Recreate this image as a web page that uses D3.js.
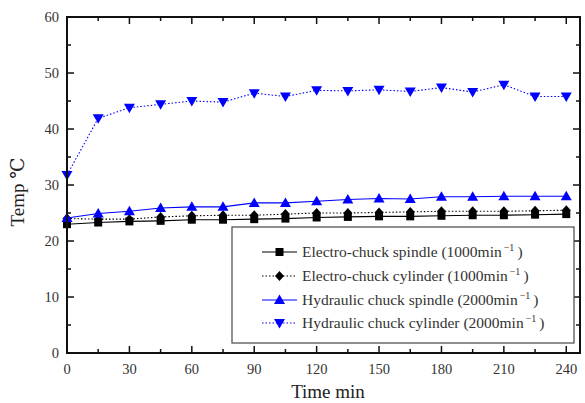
<!DOCTYPE html>
<html>
<head>
<meta charset="utf-8">
<script src="https://cdn.jsdelivr.net/npm/d3@7/dist/d3.min.js"></script>
<style>
  html, body { margin: 0; padding: 0; background: #fff; }
  svg { display: block; }
  text { font-family: "Liberation Serif", "DejaVu Serif", serif; }
</style>
</head>
<body>
<svg id="chart" width="585" height="403"></svg>
<script>
// Sampling times (min)
const times = [0, 15, 30, 45, 60, 75, 90, 105, 120, 135, 150, 165, 180, 195, 210, 225, 240];

// Measured temperatures (°C)
const electroSpindle  = [23.0, 23.3, 23.5, 23.6, 23.8, 23.8, 23.9, 24.0, 24.2, 24.3, 24.4, 24.4, 24.5, 24.6, 24.6, 24.7, 24.8];
const electroCylinder = [24.0, 23.9, 23.9, 24.3, 24.5, 24.6, 24.6, 24.8, 25.0, 25.0, 25.1, 25.2, 25.3, 25.3, 25.3, 25.4, 25.5];
const hydraulicSpindle  = [24.1, 24.9, 25.3, 25.9, 26.1, 26.1, 26.8, 26.8, 27.1, 27.4, 27.6, 27.5, 27.9, 27.9, 28.0, 28.0, 28.0];
const hydraulicCylinder = [31.8, 41.9, 43.8, 44.4, 45.0, 44.8, 46.4, 45.8, 46.9, 46.8, 47.0, 46.7, 47.4, 46.6, 47.9, 45.8, 45.8];

// Axis ticks
const xMajorTicks = [0, 30, 60, 90, 120, 150, 180, 210, 240];
const xMinorTicks = [15, 45, 75, 105, 135, 165, 195, 225];
const yMajorTicks = [0, 10, 20, 30, 40, 50, 60];
const yMinorTicks = [5, 15, 25, 35, 45, 55];

const seriesNames = [
  "Electro-chuck spindle (1000min",
  "Electro-chuck cylinder (1000min",
  "Hydraulic chuck spindle (2000min",
  "Hydraulic chuck cylinder (2000min"
];

const series = [
  { name: seriesNames[0], values: electroSpindle,   color: "#000000", dash: null,  symbol: "square" },
  { name: seriesNames[1], values: electroCylinder,  color: "#000000", dash: "1.5,2", symbol: "diamond" },
  { name: seriesNames[2], values: hydraulicSpindle, color: "#0000ff", dash: null,  symbol: "up" },
  { name: seriesNames[3], values: hydraulicCylinder, color: "#0000ff", dash: "1.5,2", symbol: "down" }
];

const svg = d3.select("#chart");
const plotL = 67, plotR = 580, plotT = 17, plotB = 353;

const x = d3.scaleLinear().domain([0, 246.6]).range([plotL, plotR]);
const y = d3.scaleLinear().domain([0, 60]).range([plotB, plotT]);

// Marker shapes
function markerPath(sym) {
  if (sym === "square") return "M-4,-4H4V4H-4Z";
  if (sym === "diamond") return "M0,-5L4.5,0L0,5L-4.5,0Z";
  if (sym === "up") return "M0,-5.5L5.5,4L-5.5,4Z";
  return "M0,5.5L5.5,-4L-5.5,-4Z";
}

// Series lines and markers
const line = d3.line().x((d, i) => x(times[i])).y(d => y(d));
series.forEach(s => {
  svg.append("path")
    .attr("d", line(s.values))
    .attr("fill", "none")
    .attr("stroke", s.color)
    .attr("stroke-width", 1.1)
    .attr("stroke-dasharray", s.dash);
});
series.forEach(s => {
  svg.append("g").selectAll("path")
    .data(s.values)
    .join("path")
    .attr("transform", (d, i) => `translate(${x(times[i])},${y(d)})`)
    .attr("d", markerPath(s.symbol))
    .attr("fill", s.color);
});

// Frame
svg.append("rect")
  .attr("x", plotL).attr("y", plotT)
  .attr("width", plotR - plotL).attr("height", plotB - plotT)
  .attr("fill", "none").attr("stroke", "#111").attr("stroke-width", 2);

// Inward ticks on all four sides
const tickColor = "#111";
function xTicks(vals, len) {
  svg.append("g").selectAll("line").data(vals).join("line")
    .attr("x1", d => x(d)).attr("x2", d => x(d))
    .attr("y1", plotB).attr("y2", plotB - len)
    .attr("stroke", tickColor).attr("stroke-width", 1.5);
  svg.append("g").selectAll("line").data(vals).join("line")
    .attr("x1", d => x(d)).attr("x2", d => x(d))
    .attr("y1", plotT).attr("y2", plotT + len)
    .attr("stroke", tickColor).attr("stroke-width", 1.5);
}
function yTicks(vals, len) {
  svg.append("g").selectAll("line").data(vals).join("line")
    .attr("y1", d => y(d)).attr("y2", d => y(d))
    .attr("x1", plotL).attr("x2", plotL + len)
    .attr("stroke", tickColor).attr("stroke-width", 1.5);
  svg.append("g").selectAll("line").data(vals).join("line")
    .attr("y1", d => y(d)).attr("y2", d => y(d))
    .attr("x1", plotR).attr("x2", plotR - len)
    .attr("stroke", tickColor).attr("stroke-width", 1.5);
}
xTicks(xMajorTicks, 7);
xTicks(xMinorTicks, 4);
yTicks(yMajorTicks, 7);
yTicks(yMinorTicks, 4);

// Tick labels
svg.append("g").selectAll("text").data(xMajorTicks).join("text")
  .attr("x", d => x(d)).attr("y", 374)
  .attr("text-anchor", "middle")
  .attr("font-size", 14.5).attr("fill", "#333")
  .text(d => d);
svg.append("g").selectAll("text").data(yMajorTicks).join("text")
  .attr("x", 59).attr("y", d => y(d) + 5)
  .attr("text-anchor", "end")
  .attr("font-size", 14.5).attr("fill", "#333")
  .text(d => d);

// Axis titles
svg.append("text")
  .attr("x", 328).attr("y", 398)
  .attr("text-anchor", "middle")
  .attr("font-size", 19).attr("fill", "#222")
  .text("Time min");
svg.append("text")
  .attr("transform", "translate(24,192) rotate(-90)")
  .attr("text-anchor", "middle")
  .attr("font-size", 19).attr("fill", "#222")
  .text("Temp ℃");

// Legend
const lg = svg.append("g");
lg.append("rect")
  .attr("x", 232).attr("y", 227).attr("width", 342).attr("height", 116)
  .attr("fill", "#fff").attr("stroke", "#555").attr("stroke-width", 1.3);
const rowY = [252, 276, 300, 323];
series.forEach((s, i) => {
  const ry = rowY[i];
  lg.append("line")
    .attr("x1", 262).attr("x2", 297).attr("y1", ry).attr("y2", ry)
    .attr("stroke", s.color).attr("stroke-width", 1.1)
    .attr("stroke-dasharray", s.dash);
  lg.append("path")
    .attr("transform", `translate(279.5,${ry})`)
    .attr("d", markerPath(s.symbol))
    .attr("fill", s.color);
  const t = lg.append("text")
    .attr("x", 302).attr("y", ry + 5)
    .attr("font-size", 15.5).attr("fill", "#333");
  t.append("tspan").text(s.name);
  t.append("tspan").attr("dy", -6).attr("dx", 2).attr("font-size", 10).text("−1");
  t.append("tspan").attr("dy", 6).attr("dx", 3).text(")");
});
</script>
</body>
</html>
